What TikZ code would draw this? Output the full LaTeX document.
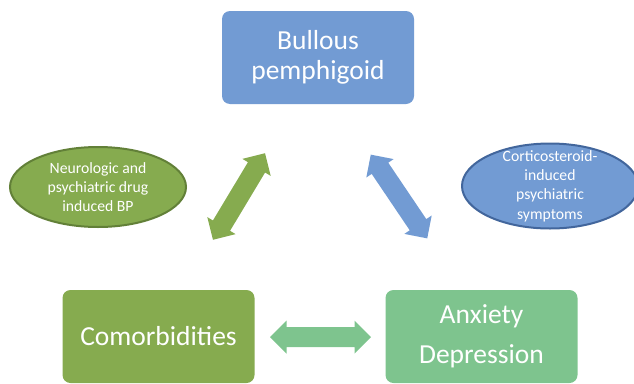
\documentclass[tikz,border=0pt]{standalone}
\usepackage{fontspec}
\setmainfont{Carlito}
\usetikzlibrary{shapes.geometric}

\definecolor{bpblue}{RGB}{114,155,211}
\definecolor{bpedge}{RGB}{66,102,156}
\definecolor{comgreen}{RGB}{134,171,79}
\definecolor{comedge}{RGB}{98,128,56}
\definecolor{anxgreen}{RGB}{126,196,142}

\tikzset{
  topic/.style={rounded corners=8pt, minimum width=192pt, minimum height=93pt,
    inner sep=0pt, text=white, align=center},
  bubble/.style={ellipse, line width=2pt, minimum width=176pt, inner sep=0pt},
  bubbletext/.style={text=white, align=center, inner sep=0pt,
    font=\fontsize{15.7}{19.3}\selectfont}
}

\begin{document}
\begin{tikzpicture}[x=1pt, y=1pt]
	\useasboundingbox (0,0) rectangle (634,-383);

	% the three topics
	\node[topic, fill=bpblue, font=\fontsize{27.5}{30}\selectfont] (bp) at (318,-57.5) {Bullous\\pemphigoid};
	\node[topic, fill=comgreen, font=\fontsize{27.5}{30}\selectfont] (com) at (158.5,-336.5) {Comorbidities};
	\node[topic, fill=anxgreen, font=\fontsize{27.5}{40}\selectfont] (anx) at (481.5,-336.5) {Anxiety\\Depression};

	% side notes
	\node[bubble, fill=comgreen, draw=comedge, minimum height=80pt] (drug) at (98,-187) {};
	\node[bubbletext] (drugtxt) at (drug) {Neurologic and\\psychiatric drug\\induced BP};
	\node[bubble, fill=bpblue, draw=bpedge, minimum height=85pt] (steroid) at (550,-186) {};
	\node[bubbletext] (steroidtxt) at (steroid) {Corticosteroid-\\induced\\psychiatric\\symptoms};

	% block arrows
	\foreach \x/\y/\a/\c in {239/-196.5/59/comgreen, 399/-196.5/-56/bpblue, 320.5/-337/0/anxgreen}{
	   \fill[\c, shift={(\x,\y)}, rotate=\a] (-50.5,0) -- (-34,16.5) -- (-34,10) -- (34,10) -- (34,16.5)
	      -- (50.5,0) -- (34,-16.5) -- (34,-10) -- (-34,-10) -- (-34,-16.5) -- cycle;
	}
\end{tikzpicture}
\end{document}
